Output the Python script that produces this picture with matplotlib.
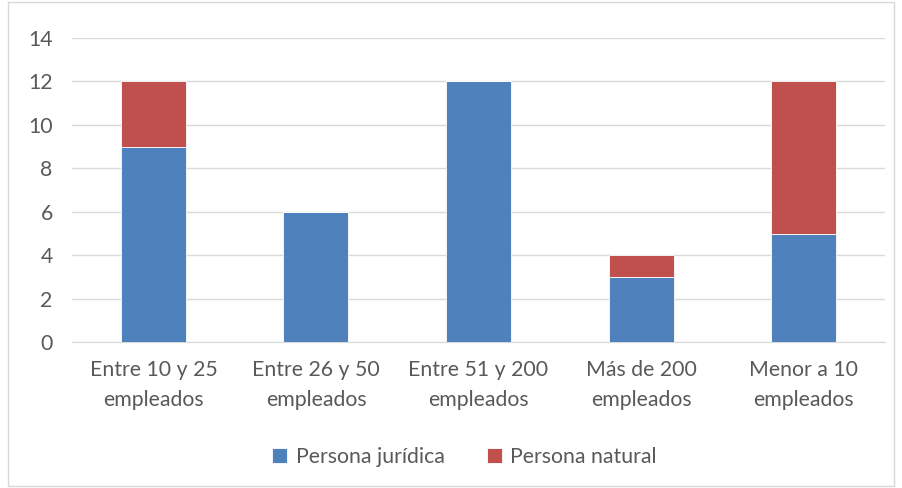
import numpy as np
from matplotlib import pyplot as plt
from matplotlib.patches import Rectangle

categorias = ['Entre 10 y 25\nempleados', 'Entre 26 y 50\nempleados', 'Entre 51 y 200\nempleados',
              'Más de 200\nempleados', 'Menor a 10\nempleados']
juridica = [9, 6, 12, 3, 5]
natural = [3, 0, 0, 1, 7]

azul = '#4F81BD'
rojo = '#C0504D'
gris = '#595959'

plt.rcParams['font.family'] = ['Lato', 'DejaVu Sans']

fig = plt.figure(figsize=(9.02, 4.88), dpi=100)
ax = fig.add_axes([0.080, 0.299, 0.901, 0.623])

x = np.arange(len(categorias))
ax.bar(x, juridica, 0.4, color=azul, edgecolor='white', linewidth=0.6, label='Persona jurídica', zorder=3)
ax.bar(x, natural, 0.4, bottom=juridica, color=rojo, edgecolor='white', linewidth=0.6, label='Persona natural', zorder=3)

ax.set_xlim(-0.5, 4.5)
ax.set_ylim(0, 14)
ax.yaxis.set_major_locator(plt.MultipleLocator(2))
ax.grid(axis='y', color='#D9D9D9', linewidth=1, zorder=0)
for s in ['top', 'right', 'left']:
    ax.spines[s].set_visible(False)
ax.spines['bottom'].set_color('#D9D9D9')
ax.tick_params(length=0, labelsize=15.3, colors=gris)
ax.tick_params(axis='y', pad=14)
ax.tick_params(axis='x', pad=13)
ax.set_xticks(x)
ax.set_xticklabels(categorias, linespacing=1.6)

fig.legend(loc='center', bbox_to_anchor=(0.515, 0.063), ncol=2, frameon=False,
           fontsize=15.3, labelcolor=gris, handlelength=0.7, handleheight=0.7,
           handletextpad=0.4, columnspacing=2.0)

fig.patches.append(Rectangle((0.009, 0.004), 0.982, 0.992, transform=fig.transFigure,
                             fill=False, edgecolor='#D9D9D9', linewidth=1))

fig.savefig('out.png', dpi=100)
